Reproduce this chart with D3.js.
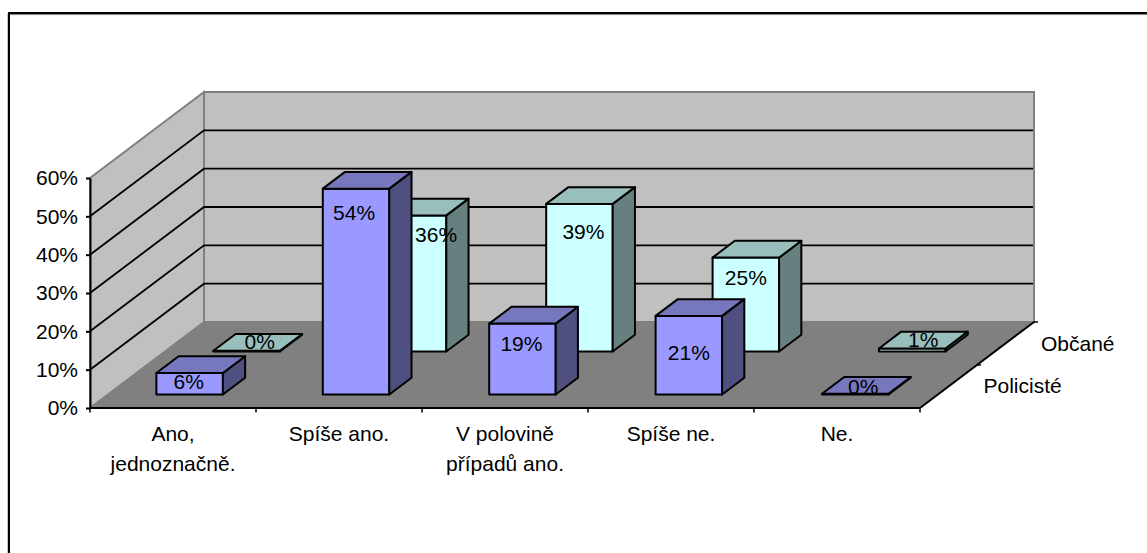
<!DOCTYPE html>
<html><head><meta charset="utf-8">
<script src="https://cdn.jsdelivr.net/npm/d3@7"></script>
<style>html,body{margin:0;padding:0;background:#fff;overflow:hidden}svg{display:block}text{font-family:"Liberation Sans",Arial,sans-serif;fill:#000}</style>
</head><body><svg id="c" width="1147" height="553"></svg>
<script>
const categories = [["Ano,","jednoznačně."],["Spíše ano."],["V polovině","případů ano."],["Spíše ne."],["Ne."]];
const seriesNames = ["Policisté","Občané"];
const policiste = [5.6,53.7,18.5,20.5,0.2];
const obcane = [0.2,35.5,38.5,24.5,0.8];
const yTicks = [0,10,20,30,40,50,60];
const colors = [{front:"#9999ff",top:"#7777bd",side:"#4f4f80"},{front:"#ccffff",top:"#99bfbd",side:"#668080"}];
// hand placement of the printed value labels, relative to each bar's front face
const labelShift = [
  [[-1,16],[-2,31],[-1,27],[0,44],[8,0]],
  [[13,-2],[23,27],[4,35],[0,27],[11,-1.5]]
];

const svg = d3.select("#c");
const x = d3.scaleBand().domain(d3.range(5)).range([90,920]);
const xBars = d3.scaleBand().domain(d3.range(5)).range([90,922]);
const y = d3.scaleLinear().domain([0,60]).range([408,178]);
const dx = d3.scaleLinear().domain([0,2]).range([0,114]);
const dy = d3.scaleLinear().domain([0,2]).range([0,-86]);
const barDepth = 0.39, barW = 66.5, barInset = 66.4, baseLift = 13.5;
const FS = 21;
const pts = a => a.map(p=>p.join(",")).join(" ");
const DX=dx(2), DY=dy(2), y0=y(0), yT=y(60), x0=90, x1=920;

// outer frame: left and top edges only reach the picture border
svg.append("line").attr("x1",7.5).attr("x2",7.5).attr("y1",13).attr("y2",553).attr("stroke","#c8c8c8").attr("stroke-width",1);
svg.append("line").attr("x1",8).attr("x2",1147).attr("y1",14.6).attr("y2",14.6).attr("stroke","#808080").attr("stroke-width",1);
svg.append("line").attr("x1",9).attr("x2",9).attr("y1",12).attr("y2",553).attr("stroke","#000").attr("stroke-width",2);
svg.append("line").attr("x1",8).attr("x2",1147).attr("y1",13).attr("y2",13).attr("stroke","#000").attr("stroke-width",2);

// walls and floor
svg.append("polygon").attr("points",pts([[x0,y0],[x0+DX,y0+DY],[x1+DX,y0+DY],[x1,y0]])).attr("fill","#808080").attr("stroke","#808080");
svg.append("polygon").attr("points",pts([[x0,y0],[x0+DX,y0+DY],[x0+DX,yT+DY],[x0,yT]])).attr("fill","#c0c0c0").attr("stroke","#808080").attr("stroke-width",2);
svg.append("polygon").attr("points",pts([[x0+DX,y0+DY],[x1+DX,y0+DY],[x1+DX,yT+DY],[x0+DX,yT+DY]])).attr("fill","#c0c0c0").attr("stroke","#808080").attr("stroke-width",2);
yTicks.slice(1,-1).forEach(t=>{
  svg.append("polyline").attr("points",pts([[x0,y(t)],[x0+DX,y(t)+DY],[x1+DX-1,y(t)+DY]])).attr("fill","none").attr("stroke","#000").attr("stroke-width",1.8);
});

// axes
svg.append("g").attr("transform",`translate(${x0},0)`).call(d3.axisLeft(y).tickValues(yTicks).tickFormat(d=>d+"%").tickSize(4).tickSizeOuter(0))
  .call(g=>{g.selectAll("text").attr("font-size",FS).attr("x",-12).attr("dy","0.32em").style("font-family",'"Liberation Sans",Arial,sans-serif');g.selectAll("line,path").attr("stroke","#000").attr("stroke-width",2);});
svg.append("line").attr("x1",x0).attr("x2",x1).attr("y1",y0).attr("y2",y0).attr("stroke","#000").attr("stroke-width",2);
d3.range(6).forEach(i=>{const px=x0+i*x.bandwidth();svg.append("line").attr("x1",px).attr("x2",px).attr("y1",y0).attr("y2",y0+4.5).attr("stroke","#000").attr("stroke-width",1.5);});
svg.append("line").attr("x1",x1).attr("y1",y0).attr("x2",x1+DX).attr("y2",y0+DY).attr("stroke","#000").attr("stroke-width",2);
d3.range(1,3).forEach(i=>{const px=x1+dx(i),py=y0+dy(i);svg.append("line").attr("x1",px).attr("y1",py).attr("x2",px+4).attr("y2",py).attr("stroke","#000").attr("stroke-width",1.5);});

categories.forEach((lines,i)=>{
  lines.forEach((l,j)=>svg.append("text").attr("x",x(i)+x.bandwidth()/2).attr("y",441+j*29.5).attr("text-anchor","middle").attr("font-size",FS).text(l));
});
seriesNames.forEach((n,i)=>{
  svg.append("text").attr("x",[983.5,1041][i]).attr("y",[392.5,350.5][i]).attr("font-size",FS).text(n);
});

// bars: back row first
function frontFace(row,i,v){
  const fx=xBars(i)+barInset+dx(row), bot=y0-baseLift+dy(row);
  return {fx,bot,top:bot-(y0-y(v))};
}
function bar(row,vals){
  const c=colors[row], bx=dx(barDepth), by=dy(barDepth);
  vals.forEach((v,i)=>{
    const {fx,bot,top}=frontFace(row,i,v);
    const g=svg.append("g").attr("stroke","#000").attr("stroke-width",2).attr("stroke-linejoin","round");
    g.append("polygon").attr("points",pts([[fx,top],[fx+barW,top],[fx+barW,bot],[fx,bot]])).attr("fill",c.front);
    g.append("polygon").attr("points",pts([[fx+barW,top],[fx+barW+bx,top+by],[fx+barW+bx,bot+by],[fx+barW,bot]])).attr("fill",c.side);
    g.append("polygon").attr("points",pts([[fx,top],[fx+bx,top+by],[fx+barW+bx,top+by],[fx+barW,top]])).attr("fill",c.top);
  });
}
bar(1,obcane);
bar(0,policiste);

// value labels on top
[policiste,obcane].forEach((vals,row)=>{
  vals.forEach((v,i)=>{
    const {fx,top}=frontFace(row,i,v), s=labelShift[row][i];
    svg.append("text").attr("x",fx+barW/2+s[0]).attr("y",top+s[1]).attr("text-anchor","middle").attr("font-size",FS).text(Math.round(v)+"%");
  });
});
</script></body></html>
